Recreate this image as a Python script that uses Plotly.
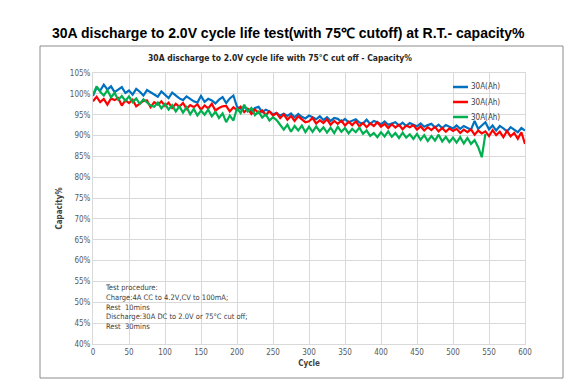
import plotly.graph_objects as go

W, H = 571, 388
L, R, T, B = 93, 46, 73, 44
PW, PH = W - L - R, H - T - B

def px(x):
    return (x - L) / PW

def py(y):
    return (H - B - y) / PH

# ---- data (every 5 cycles) ----
cycles_blue = list(range(0, 601, 5))
blue = [99.5, 101.5, 100.8, 102.2, 101.0, 101.8, 100.4, 100.9, 101.6, 100.2,
        100.8, 99.8, 101.2, 100.5, 99.6, 100.9, 100.3, 99.9, 99.3, 100.6,
        99.7, 99.0, 100.3, 99.6, 98.9, 98.5, 99.4, 98.8, 98.2, 97.9,
        99.5, 98.1, 98.8, 98.4, 97.7, 98.6, 99.2, 97.8, 98.9, 99.6,
        96.9, 96.4, 96.8, 96.3, 95.7, 96.6, 96.9, 95.6, 96.2, 95.8,
        95.1, 95.4, 94.8, 95.2, 94.7, 95.3, 94.4, 95.2, 94.5, 94.1,
        94.8, 94.4, 93.9, 94.6, 93.7, 94.4, 93.5, 94.2, 94.0, 93.3,
        94.0, 93.2, 93.6, 93.9, 93.1, 92.9, 93.8, 92.8, 93.5, 93.2,
        92.7, 93.4, 92.6, 92.9, 93.2, 92.4, 93.1, 92.3, 93.0, 92.6,
        92.2, 92.9, 92.1, 92.5, 92.8, 91.9, 92.6, 91.8, 92.5, 92.1,
        91.7, 92.4, 91.6, 92.3, 91.9, 91.4, 93.5, 91.6, 92.4, 93.2,
        91.5, 92.4, 91.2, 92.3, 91.7, 91.0, 92.0, 91.5, 90.8, 91.8,
        91.2]

cycles_red = list(range(0, 601, 5))
red = [98.2, 99.3, 98.0, 98.8, 97.4, 98.9, 98.5, 99.0, 97.2, 98.5,
       97.8, 98.6, 97.0, 97.6, 98.3, 98.4, 96.8, 98.0, 97.4, 98.2,
       97.1, 97.9, 96.6, 97.6, 96.9, 97.8, 96.4, 97.3, 96.8, 97.5,
       96.2, 97.2, 96.5, 97.6, 96.0, 96.6, 97.0, 97.1, 95.8, 96.8,
       96.1, 96.9, 95.6, 96.4, 95.2, 96.2, 95.5, 96.0, 94.9, 95.8,
       94.8, 95.4, 94.2, 95.1, 93.8, 94.7, 93.5, 94.6, 93.9, 93.2,
       93.4, 94.2, 92.9, 93.7, 93.0, 93.9, 92.6, 93.5, 92.8, 93.6,
       92.4, 93.3, 92.5, 93.4, 92.2, 93.0, 92.0, 92.9, 92.3, 93.2,
       92.1, 92.8, 91.8, 92.7, 91.9, 92.6, 91.5, 92.4, 92.0, 92.5,
       91.4, 92.2, 91.2, 92.0, 91.3, 92.1, 91.0, 91.8, 90.9, 91.7,
       91.1, 91.6, 90.6, 91.4, 90.8, 91.5, 90.2, 91.2, 90.5, 91.0,
       89.9, 91.3, 90.1, 90.9, 89.6, 91.1, 89.8, 90.6, 89.2, 90.8,
       88.0]

cycles_green = list(range(0, 546, 5))
green = [99.8, 101.8, 100.5, 99.6, 100.9, 99.2, 100.2, 98.6, 99.5, 98.3,
         99.4, 98.0, 98.9, 97.6, 98.7, 97.9, 97.2, 96.9, 97.9, 96.5,
         97.6, 96.2, 97.3, 95.8, 97.0, 95.5, 96.8, 95.1, 96.4, 94.8,
         96.0, 95.0, 96.2, 94.6, 95.7, 94.2, 95.3, 93.2, 94.8, 93.6,
         96.5, 95.4, 97.4, 95.8, 96.6, 94.9, 95.7, 94.3, 95.1, 93.6,
         94.4, 93.7, 92.6, 91.4, 92.6, 90.9, 92.3, 91.2, 92.4, 90.8,
         92.1, 90.9, 92.2, 91.0, 92.0, 90.7, 91.9, 90.6, 92.1, 90.9,
         91.8, 90.5, 91.6, 90.8, 91.9, 90.4, 91.2, 89.9, 90.6, 89.6,
         90.8, 89.8, 91.0, 89.7, 90.6, 89.4, 90.7, 89.5, 90.3, 89.2,
         90.4, 89.0, 90.1, 88.7, 89.9, 88.8, 90.2, 88.6, 89.7, 88.4,
         89.5, 88.3, 89.6, 88.1, 89.4, 88.0, 88.9, 87.2, 84.8, 90.4]

series_names = ["30A(Ah)", "30A(Ah)", "30A(Ah)"]
colors = ["#0070C0", "#FF0000", "#00B050"]

y_ticks = list(range(40, 106, 5))
y_tick_text = [f"{v}%" for v in y_ticks]
x_ticks = list(range(0, 601, 50))

main_title = "30A discharge to 2.0V cycle life test(with 75\u2103 cutoff) at R.T.- capacity%"
inner_title = "30A discharge to 2.0V cycle life with 75\u00b0C cut off - Capacity%"
note_lines = ["Test procedure:",
              "Charge:4A CC to 4.2V,CV to 100mA;",
              "Rest  10mins",
              "Discharge:30A DC to 2.0V or 75\u00b0C cut off;",
              "Rest  30mins"]

fig = go.Figure()
for xs, ys, name, c in [(cycles_blue, blue, series_names[0], colors[0]),
                        (cycles_red, red, series_names[1], colors[1]),
                        (cycles_green, green, series_names[2], colors[2])]:
    fig.add_trace(go.Scatter(x=xs, y=ys, mode="lines", name=name,
                             line=dict(color=c, width=2.2), showlegend=False))

small_font = "Liberation Sans Narrow, Arial Narrow, DejaVu Sans Condensed, sans-serif"

fig.update_layout(
    width=W, height=H,
    margin=dict(l=L, r=R, t=T, b=B),
    paper_bgcolor="white", plot_bgcolor="white",
    showlegend=False,
    xaxis=dict(range=[0, 600], tickvals=x_ticks, showgrid=True,
               gridcolor="#D9D9D9", gridwidth=1, zeroline=False,
               showline=True, linecolor="#D9D9D9", mirror=True,
               tickfont=dict(family=small_font, size=8, color="#595959"),
               title=dict(text="<b>Cycle</b>", standoff=4,
                          font=dict(family=small_font, size=8, color="#404040")),
               ticks=""),
    yaxis=dict(range=[40, 105], tickvals=y_ticks, ticktext=y_tick_text,
               showgrid=True, gridcolor="#D9D9D9", gridwidth=1, zeroline=False,
               showline=True, linecolor="#D9D9D9", mirror=True,
               tickfont=dict(family=small_font, size=8, color="#595959"),
               title=dict(text="<b>Capacity%</b>", standoff=6,
                          font=dict(family=small_font, size=8, color="#404040")),
               ticks=""),
)

# custom legend (layout positions)
for i, (name, c) in enumerate(zip(series_names, colors)):
    yy = 87 + 15 * i
    fig.add_shape(type="line", xref="paper", yref="paper",
                  x0=px(453), x1=px(468), y0=py(yy), y1=py(yy),
                  line=dict(color=c, width=2.5))
    fig.add_annotation(text=name, xref="paper", yref="paper",
                       x=px(469), y=py(yy), xanchor="left", yanchor="middle",
                       showarrow=False,
                       font=dict(family=small_font, size=8, color="#404040"))

# outer chart frame
fig.add_shape(type="rect", xref="paper", yref="paper",
              x0=px(40), x1=px(563), y0=py(378), y1=py(46),
              line=dict(color="#8C8C8C", width=1), fillcolor="rgba(0,0,0,0)",
              layer="below")

fig.add_annotation(text=f"<b>{main_title}</b>", xref="paper", yref="paper",
                   x=px(288), y=py(33), xanchor="center", yanchor="middle",
                   showarrow=False,
                   font=dict(family="Liberation Sans, Arial, sans-serif", size=14, color="black"))
fig.add_annotation(text=f"<b>{inner_title}</b>", xref="paper", yref="paper",
                   x=px(280), y=py(58), xanchor="center", yanchor="middle",
                   showarrow=False,
                   font=dict(family=small_font, size=8.5, color="#262626"))
fig.add_annotation(text="<br>".join(note_lines), xref="paper", yref="paper",
                   x=px(103), y=py(281), xanchor="left", yanchor="top",
                   align="left", showarrow=False,
                   font=dict(family=small_font, size=7.5, color="#404040"))

fig.write_html("out.html",
               config={"displayModeBar": False},
               post_script="document.body.style.margin='0';document.body.style.padding='0';")
